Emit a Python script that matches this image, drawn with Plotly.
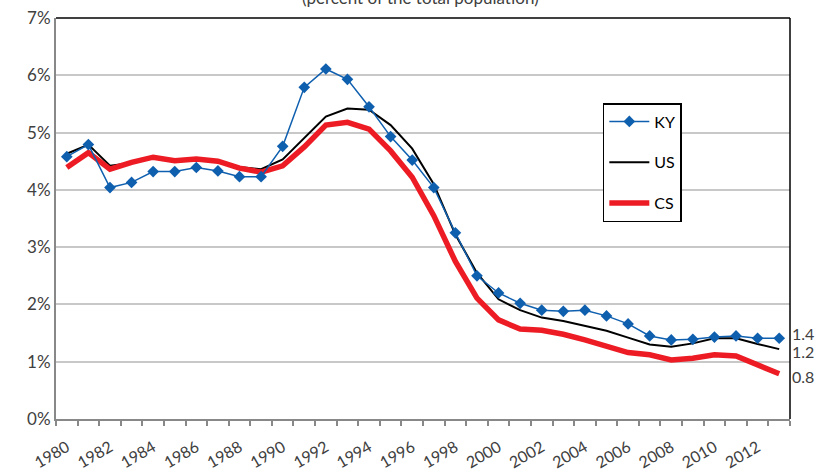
import plotly.graph_objects as go

years = list(range(1980, 2014))
ky = [4.58, 4.79, 4.04, 4.13, 4.32, 4.32, 4.39, 4.33, 4.23, 4.23,
      4.76, 5.79, 6.11, 5.93, 5.45, 4.93, 4.52, 4.04, 3.25, 2.50,
      2.20, 2.02, 1.90, 1.88, 1.90, 1.80, 1.66, 1.45, 1.38, 1.39,
      1.43, 1.45, 1.41, 1.41]
us = [4.63, 4.79, 4.42, 4.47, 4.55, 4.50, 4.53, 4.50, 4.40, 4.36,
      4.53, 4.90, 5.28, 5.42, 5.40, 5.13, 4.72, 4.10, 3.22, 2.55,
      2.09, 1.90, 1.77, 1.71, 1.63, 1.54, 1.42, 1.30, 1.26, 1.32,
      1.41, 1.41, 1.31, 1.22]
cs = [4.39, 4.65, 4.36, 4.48, 4.57, 4.51, 4.54, 4.50, 4.38, 4.31,
      4.42, 4.75, 5.13, 5.18, 5.06, 4.68, 4.22, 3.55, 2.75, 2.11,
      1.73, 1.57, 1.55, 1.48, 1.38, 1.28, 1.16, 1.12, 1.03, 1.06,
      1.12, 1.10, 0.95, 0.79]
tick_years = list(range(1980, 2013, 2))
end_labels = ["1.4", "1.2", "0.8"]
end_label_y = [1.50, 1.18, 0.75]
title_text = "(percent of the total population)"

FONT = "Lato, 'Open Sans', sans-serif"
TXT = "#404040"

fig = go.Figure()
fig.add_trace(go.Scatter(x=years, y=us, name="US", mode="lines",
                         line=dict(color="black", width=2),
                         legendgroup="b", legendrank=2))
fig.add_trace(go.Scatter(x=years, y=cs, name="CS", mode="lines",
                         line=dict(color="#ED1C24", width=5.5),
                         legendgroup="c", legendrank=3))
fig.add_trace(go.Scatter(x=years, y=ky, name="KY", mode="lines+markers",
                         line=dict(color="#0F5FAF", width=1.5),
                         marker=dict(symbol="diamond", size=9, color="#0F5FAF"),
                         legendgroup="a", legendrank=1))

fig.update_layout(
    width=817, height=472,
    margin=dict(l=56, r=27, t=18, b=53),
    paper_bgcolor="white", plot_bgcolor="white",
    font=dict(family=FONT, size=16, color=TXT),
    showlegend=True,
    legend=dict(x=0.745, y=0.788, xanchor="left", yanchor="top",
                bgcolor="white", bordercolor="black", borderwidth=1.5,
                traceorder="grouped", tracegroupgap=17,
                font=dict(family=FONT, size=16, color="black"),
                itemwidth=40),
    xaxis=dict(range=[1979.5, 2013.5], tickmode="array", tickvals=tick_years,
               ticktext=[str(y) for y in tick_years], tickangle=-30,
               ticks="", showgrid=False, zeroline=False, automargin=False,
               ticklabelstandoff=11,
               showline=True, linecolor="#888888", linewidth=2,
               minor=dict(tickvals=[y - 0.5 for y in years] + [2013.5],
                          ticks="outside", ticklen=5, tickcolor="#888888",
                          tickwidth=1.5, showgrid=False),
               tickfont=dict(family=FONT, size=16, color=TXT)),
    yaxis=dict(range=[0, 7], dtick=1, ticksuffix="%", showgrid=True,
               gridcolor="#C8C8C8", gridwidth=1.5, zeroline=False, automargin=False,
               showline=True, linecolor="#888888", linewidth=2, ticks="",
               tickfont=dict(family=FONT, size=17, color=TXT)),
)

# top & right frame lines (black)
fig.add_shape(type="line", xref="paper", yref="paper", x0=0, x1=1, y0=1, y1=1,
              line=dict(color="black", width=1.5), layer="above")
fig.add_shape(type="line", xref="paper", yref="paper", x0=1, x1=1, y0=0, y1=1,
              line=dict(color="black", width=1.5), layer="above")

for t, yv in zip(end_labels, end_label_y):
    fig.add_annotation(x=1, xref="paper", y=yv, yref="y", text=t, showarrow=False,
                       xanchor="left", xshift=0, font=dict(family=FONT, size=16, color=TXT))

fig.add_annotation(x=0.496, xref="paper", y=1, yref="paper", text=title_text,
                   showarrow=False, xanchor="center", yanchor="bottom", yshift=8,
                   font=dict(family=FONT, size=17, color=TXT))

fig.write_html("out.html", config={"displayModeBar": False},
               post_script="document.body.style.margin='0px';document.body.style.overflow='hidden';")
